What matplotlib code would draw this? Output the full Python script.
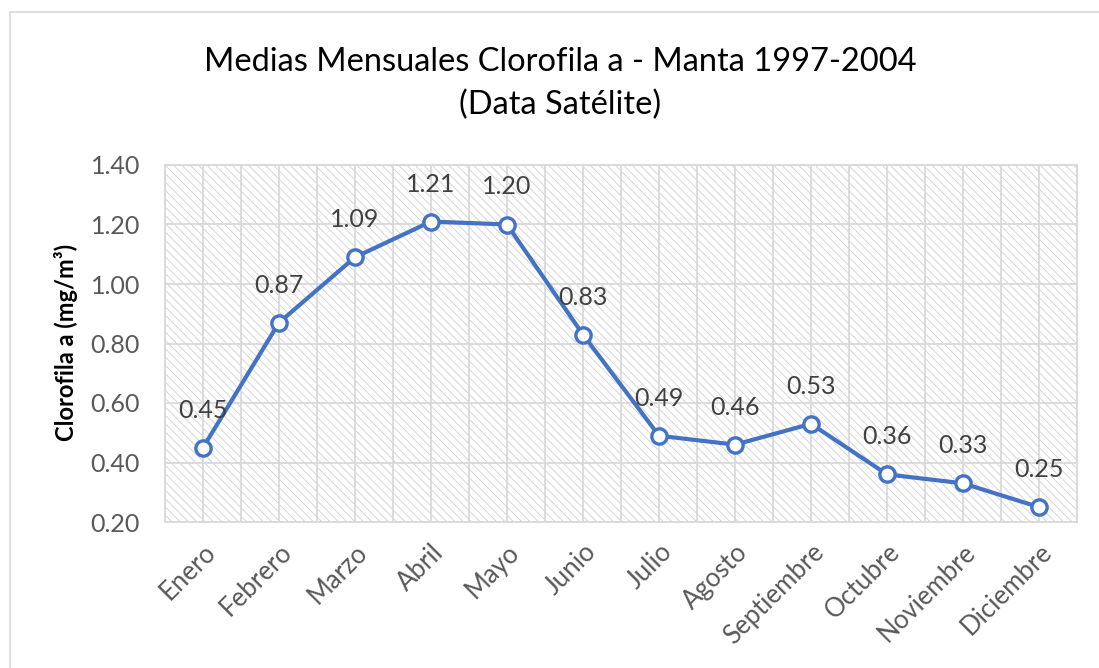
import matplotlib.pyplot as plt
from matplotlib.patches import Rectangle
from matplotlib.ticker import MultipleLocator, FixedLocator

plt.rcParams['font.family'] = ['Lato', 'DejaVu Sans']
plt.rcParams['hatch.linewidth'] = 0.6

# datos
meses = ['Enero', 'Febrero', 'Marzo', 'Abril', 'Mayo', 'Junio', 'Julio',
         'Agosto', 'Septiembre', 'Octubre', 'Noviembre', 'Diciembre']
clorofila = [0.45, 0.87, 1.09, 1.21, 1.20, 0.83, 0.49, 0.46, 0.53, 0.36, 0.33, 0.25]

W, H = 1099, 668
fig = plt.figure(figsize=(W / 100, H / 100), dpi=100)

# borde exterior del grafico
fig.patches.append(Rectangle((10 / W, -0.01), 1.0, (H - 12) / H + 0.01,
                             transform=fig.transFigure, fill=False,
                             edgecolor='#d9d9d9', linewidth=1.2))

ax = fig.add_axes([165 / W, (H - 522) / H, 912 / W, 357 / H])
x = list(range(len(meses)))

# fondo rayado
ax.add_patch(Rectangle((0, 0), 1, 1, transform=ax.transAxes, facecolor='white',
                       edgecolor='#cfcfcf', hatch='\\\\\\\\', linewidth=0, zorder=0))

ax.set_xlim(-0.5, 11.5)
ax.set_ylim(0.2, 1.4)
ax.yaxis.set_major_locator(MultipleLocator(0.2))
ax.set_xticks(x)
ax.xaxis.set_minor_locator(FixedLocator([i - 0.5 for i in range(13)]))
ax.grid(True, which='both', color='#d9d9d9', linewidth=1.3, zorder=1)
ax.set_axisbelow(True)
for s in ax.spines.values():
    s.set_color('#d9d9d9')
    s.set_linewidth(1.3)

ax.plot(x, clorofila, color='#4472c4', linewidth=3, marker='o', markersize=11,
        markerfacecolor='white', markeredgecolor='#4472c4', markeredgewidth=2.4,
        zorder=3)
for xi, v in zip(x, clorofila):
    ax.annotate(f'{v:.2f}', (xi, v), xytext=(0, 27), textcoords='offset points',
                ha='center', va='center', fontsize=18, color='#404040', zorder=4)

ax.set_yticklabels([f'{t:.2f}' for t in ax.get_yticks()])
ax.tick_params(axis='y', length=0, pad=18, labelsize=18, labelcolor='#595959')
ax.tick_params(axis='x', which='both', length=0)
ax.set_xticklabels(meses, rotation=45, ha='right', va='top', rotation_mode='anchor',
                   fontsize=18.5, color='#595959')
for lbl in ax.get_xticklabels():
    lbl.set_y(-0.035)

fig.text(66 / W, (H - 342) / H, 'Clorofila a (mg/m³)', rotation=90, ha='center',
         va='center', fontsize=17, fontweight='bold', color='black')

fig.text(560 / W, (H - 62) / H, 'Medias Mensuales Clorofila a - Manta 1997-2004',
         ha='center', va='center', fontsize=23.5, color='black')
fig.text(560 / W, (H - 105) / H, '(Data Satélite)', ha='center', va='center',
         fontsize=23.5, color='black')

fig.savefig('out.png', dpi=100)
